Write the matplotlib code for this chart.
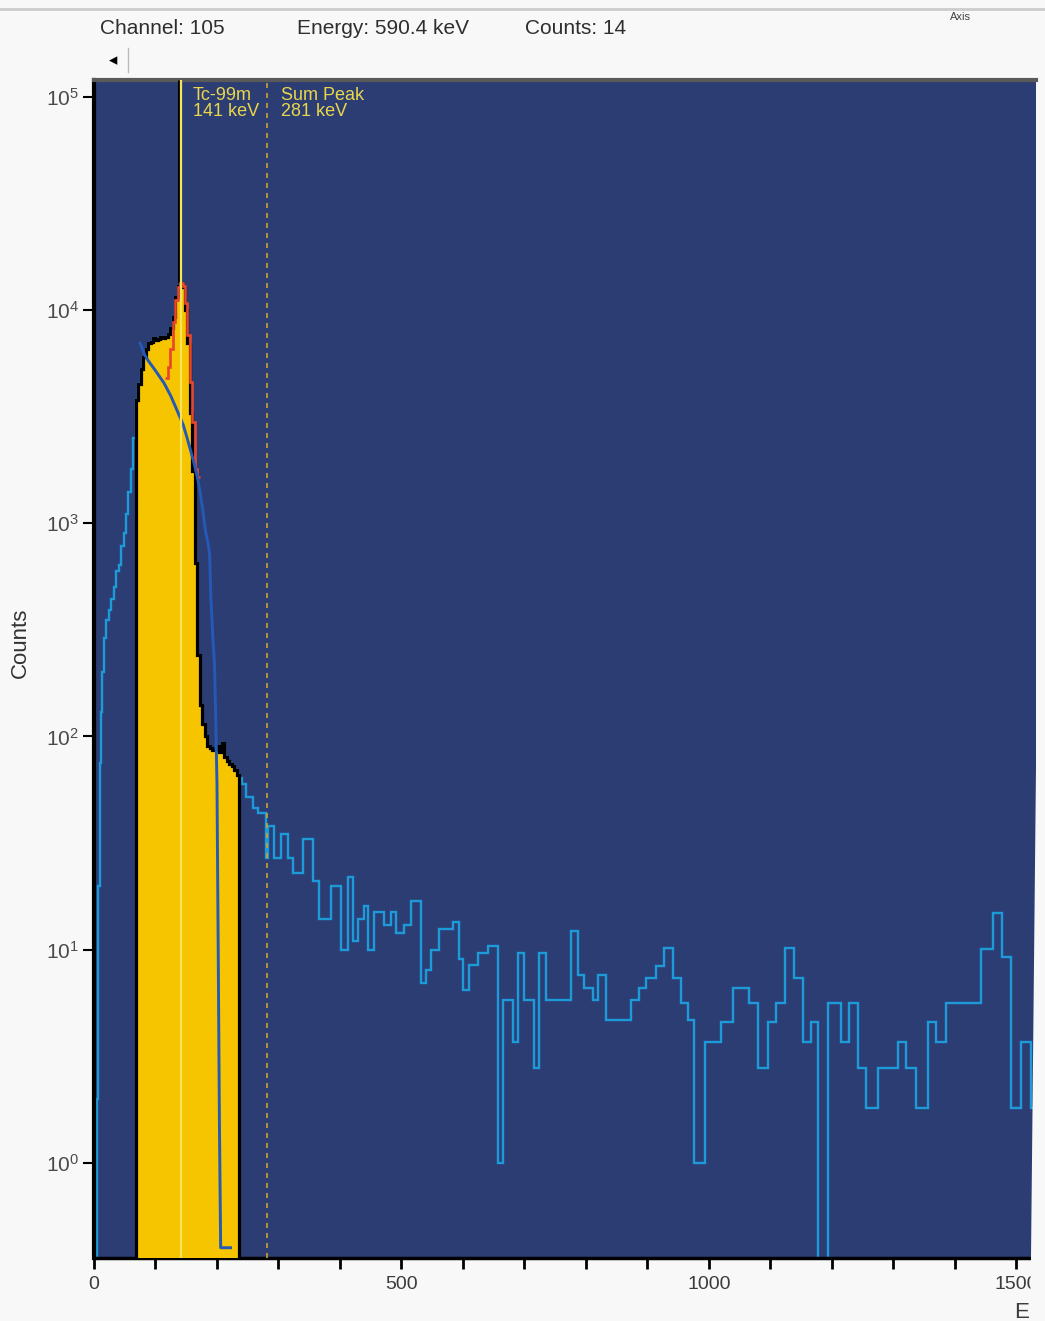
import numpy as np
import matplotlib.pyplot as plt
from matplotlib.patches import Polygon

W, H = 1045, 1321

# --- spectrum data (energy in keV, counts) ---
# low-energy part, left of the region of interest (left bin edges)
low_edges = [0, 5, 7, 9, 11, 13, 16, 20, 24, 28, 32, 36, 40, 44, 48, 52, 56, 60, 64]
low_counts = [0, 2, 20, 75, 130, 200, 290, 350, 390, 440, 500, 600, 640, 780,
              900, 1100, 1400, 1800, 2500]

# region of interest (yellow), 4 keV bins from 68 to 236 keV
roi_edges = np.arange(68, 237, 4)
roi_counts = [3800, 4500, 5300, 6000, 6600, 7000, 7100, 7400, 7200, 7300,
              7500, 7400, 7500, 7700, 8200, 9300, 11500, 13000, 13400, 12800,
              10000, 7000, 3300, 1750, 650, 240, 140, 115, 100, 90,
              88, 86, 86, 90, 85, 93, 80, 77, 74, 73,
              70, 66]

# tail above the ROI (bin edges incl. last one)
tail_edges = [236, 240, 247, 259, 267, 280, 283, 293, 304, 316, 324, 340, 356, 366,
              386, 402, 413, 421, 429, 439, 446, 456, 472, 483, 491, 504, 516, 532,
              540, 548, 561, 584, 594, 600, 610, 625, 641, 657, 665, 682, 690, 700,
              716, 724, 735, 776, 787, 797, 812, 820, 833, 874, 887, 898, 914, 927,
              942, 955, 966, 976, 993, 1020, 1039, 1066, 1080, 1096, 1109, 1123, 1139,
              1153, 1166, 1178, 1194, 1215, 1228, 1243, 1256, 1275, 1308, 1321, 1337,
              1357, 1370, 1386, 1443, 1462, 1476, 1492, 1508, 1524, 1540]
tail_counts = [64, 60, 52, 46, 44, 27, 38, 27, 35, 27, 23, 33, 21,
               14, 20, 10, 22, 11, 14, 16, 10, 15, 13, 15, 12, 13,
               17, 7, 8, 10, 12.5, 13.5, 9, 6.5, 8.5, 9.7, 10.4, 1, 5.8, 3.7, 9.7,
               5.8, 2.8, 9.7, 5.8, 12.3, 7.6, 6.6, 5.8, 7.6, 4.7, 5.8, 6.6, 7.4, 8.4,
               10.2, 7.4, 5.6, 4.7, 1, 3.7, 4.6, 6.6, 5.6, 2.8, 4.6, 5.6, 10.2,
               7.4, 3.7, 4.6, 0, 5.6, 3.7, 5.6, 2.8, 1.8, 2.8, 3.7, 2.8,
               1.8, 4.6, 3.7, 5.6, 10.1, 14.8, 9.2, 1.8, 3.7, 1.8]

# peak fit (red)
peak_edges = np.arange(116, 173, 4)
peak_counts = [4800, 5400, 6600, 8800, 11200, 12800, 13400, 13000, 10800,
               7600, 4600, 3000, 1800, 1650]

# background fit (dark blue)
bkg_energy = [75, 82, 88, 100, 114, 125, 135, 145, 151, 157, 163, 168, 172, 177,
              181, 185, 188, 190, 193, 196, 198, 200, 202, 204, 206, 222]
bkg_counts = [7000, 6200, 5800, 5200, 4540, 3950, 3390, 2900, 2540, 2200, 1900,
              1650, 1430, 1150, 930, 820, 720, 450, 300, 217, 120, 60, 10, 1.5,
              0.4, 0.4]

markers = [141, 281]
marker_labels = ['Tc-99m\n141 keV', 'Sum Peak\n281 keV']

all_edges = list(low_edges) + list(roi_edges[:-1]) + list(tail_edges)
all_counts = list(low_counts) + list(roi_counts) + list(tail_counts)

plt.rcParams['font.family'] = ['Liberation Sans Narrow', 'Liberation Sans', 'DejaVu Sans']

fig = plt.figure(figsize=(W / 100, H / 100), dpi=100, facecolor='#f8f8f8')


def fx(px):
    return px / W


def fy(py):
    return 1 - py / H


ax = fig.add_axes([fx(94), fy(1258), fx(1036) - fx(94), fy(80) - fy(1258)])
ax.set_facecolor('#2c3d74')
ax.set_yscale('log', nonpositive='clip')
ax.set_xlim(0, 1532)
ax.set_ylim(0.358, 1.2e5)

ax.stairs(all_counts, all_edges, baseline=None, color='#1c9bd8', lw=1.7, zorder=2)
ax.stairs(roi_counts, roi_edges, baseline=1e-3, fill=True, color='#f6c500', zorder=3)
ax.stairs(roi_counts, roi_edges, baseline=1e-3, color='black', lw=2.3, zorder=4)
ax.vlines(138.2, 13400, 1.2e5, color='black', lw=2.2, zorder=4)
ax.stairs(peak_counts, peak_edges, baseline=None, color='#e8462c', lw=1.9, zorder=5)
ax.plot(bkg_energy, bkg_counts, color='#2459b6', lw=2.1, zorder=5)

ax.axvline(markers[0], color='#f5e45c', lw=1.6, zorder=6)
ax.axvline(markers[1], color='#c9a434', lw=1.2, dashes=(3, 3), zorder=6)
ax.text(markers[0] + 20, 0.994, marker_labels[0], transform=ax.get_xaxis_transform(),
        color='#e9d64a', fontsize=13, va='top', ha='left', linespacing=0.95,
        family=['Liberation Sans', 'DejaVu Sans'], zorder=7)
ax.text(markers[1] + 23, 0.994, marker_labels[1], transform=ax.get_xaxis_transform(),
        color='#e9d64a', fontsize=13, va='top', ha='left', linespacing=0.95,
        family=['Liberation Sans', 'DejaVu Sans'], zorder=7)

# axes styling
ax.spines['right'].set_visible(False)
ax.spines['left'].set_linewidth(3)
ax.spines['bottom'].set_linewidth(2.5)
ax.spines['top'].set_color('#5a5a5a')
ax.spines['top'].set_linewidth(3)

ax.set_xticks(range(0, 1600, 100))
ax.set_xticklabels([str(v) if v % 500 == 0 else '' for v in range(0, 1600, 100)])
ax.tick_params(axis='x', direction='out', length=8, width=2, pad=5,
               labelsize=14, labelcolor='#3c3c3c')
ax.set_yticks([1, 10, 100, 1000, 1e4, 1e5])
ax.set_yticklabels([r'$\mathregular{10^{%d}}$' % k for k in range(6)])
ax.yaxis.set_minor_locator(plt.NullLocator())
ax.tick_params(axis='y', direction='out', length=8, width=1.5, pad=3,
               labelsize=15, labelcolor='#4a4a4a')

fig.text(fx(20), fy(643), 'Counts', rotation=90, fontsize=16, color='#333333',
         ha='center', va='center')
fig.text(fx(1022), fy(1313), 'E', fontsize=16, color='#3c3c3c', ha='center', va='center')

# header readout
fig.text(fx(100), fy(28), 'Channel: 105', fontsize=15, color='#2e2e2e', va='center')
fig.text(fx(297), fy(28), 'Energy: 590.4 keV', fontsize=15, color='#2e2e2e', va='center')
fig.text(fx(525), fy(28), 'Counts: 14', fontsize=15, color='#2e2e2e', va='center')
fig.text(fx(950), fy(12), 'Axis', fontsize=8, color='#444444', va='top')
fig.text(fx(113), fy(60), '\u25c2', fontsize=12, color='black', ha='center', va='center',
         family='DejaVu Sans')
fig.add_artist(plt.Line2D([fx(128), fx(128)], [fy(48), fy(72)], color='#bbbbbb', lw=1))
fig.add_artist(plt.Line2D([0, 1], [fy(9), fy(9)], color='#cccccc', lw=2))

# scan edge on the right
fig.add_artist(Polygon([(fx(1043), fy(80)), (1, fy(80)), (1, 0), (fx(1030), 0),
                        (fx(1031), fy(1258))], closed=True, facecolor='#f8f8f8',
                       edgecolor='none', zorder=10))

fig.savefig('out.png', dpi=100, facecolor=fig.get_facecolor())
